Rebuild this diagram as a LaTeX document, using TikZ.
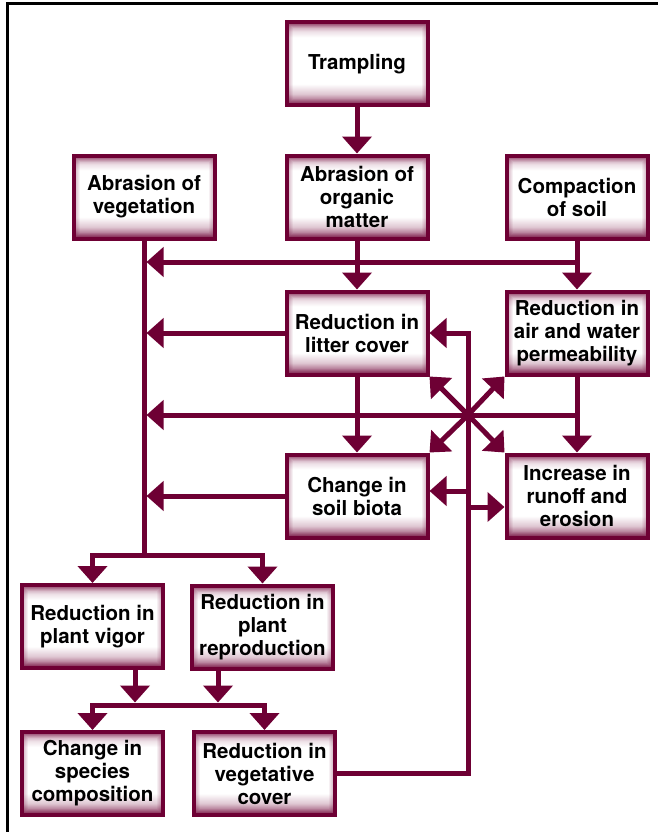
\documentclass[tikz,border=0pt]{standalone}
\usepackage{fontspec}
\setmainfont{TeX Gyre Heros}
\usetikzlibrary{arrows.meta,calc}

\definecolor{mar}{RGB}{110,0,52}

% soft maroon glow at the top and bottom of each box
\pgfdeclareverticalshading{boxglow}{100bp}{%
  color(0bp)=(mar!85); color(25bp)=(mar!85); color(28bp)=(mar!55);
  color(32bp)=(mar!22); color(38bp)=(white); color(66bp)=(white);
  color(69.6bp)=(mar!12); color(72.6bp)=(mar!35); color(75bp)=(mar!65);
  color(100bp)=(mar!65)}

\newcommand{\boxfont}{\fontsize{20.5}{23}\selectfont\bfseries}

\tikzset{
  box/.style={draw=mar, line width=4pt, shading=boxglow,
    minimum width=141pt, minimum height=83pt, inner sep=0pt,
    align=center, font=\boxfont,
    path picture={%
      \foreach \k in {1,...,6}
        \draw[mar, opacity=0.06, line width=2*\k pt]
          (path picture bounding box.south west) rectangle
          (path picture bounding box.north east);}},
  link/.style={draw=mar, line width=5pt, line join=miter},
  arr/.style={link, -{Triangle[length=17pt,width=29pt]}},
}

\begin{document}
\begin{tikzpicture}[x=1pt,y=-1pt]
\useasboundingbox (0,0) rectangle (658,832);

% frame
\draw[black, line width=3pt] (7,845) -- (7,3.5) -- (670,3.5);

% boxes
\node[box] (tra) at (357,64)    {Trampling};
\node[box] (org) at (357,197)   {Abrasion of\\organic\\matter};
\node[box] (veg) at (144,197)   {Abrasion of\\vegetation};
\node[box] (cmp) at (577,197)   {Compaction\\of soil};
\node[box] (lit) at (357,333)   {Reduction in\\litter cover};
\node[box] (per) at (577,333)   {Reduction in\\air and water\\permeability};
\node[box] (bio) at (357,496)   {Change in\\soil biota};
\node[box] (run) at (577,496)   {Increase in\\runoff and\\erosion};
\node[box] (vig) at (92.5,626.5){Reduction in\\plant vigor};
\node[box] (rep) at (262.5,627) {Reduction in\\plant\\reproduction};
\node[box] (spc) at (92.5,773.5){Change in\\species\\composition};
\node[box] (cov) at (264.5,773.5){Reduction in\\vegetative\\cover};

% junction points
\coordinate (t1) at (146.5,262);
\coordinate (t2) at (146.5,415);
\coordinate (xc) at (468,415);
\coordinate (vb) at (144,555);
\coordinate (r2) at (468,333);
\coordinate (r3) at (468,491);
\coordinate (r4) at (468,507);
\coordinate (b0) at (178,705);
\coordinate (b1) at (135,702.5);
\coordinate (b2) at (218,702.5);

% upper part
\draw[arr] (tra) -- (org);
\draw[arr] (org) -- (lit);
\draw[arr] (cmp) -- (per);
\draw[arr] (cmp.south |- t1) -- (t1);
\draw[arr] (lit.west) -- (lit.west -| t1);
\draw[arr] (per.south |- t2) -- (t2);
\draw[arr] (per) -- (run);
\draw[arr] (lit) -- (bio);
\draw[arr] (bio.west) -- (bio.west -| t1);

% crossing arrows
\draw[arr] (xc) -- (lit.south east);
\draw[arr] (xc) -- (per.south west);
\draw[arr] (xc) -- (bio.north east);
\draw[arr] (xc) -- (run.north west);

% feedback from vegetative cover
\draw[arr] (cov.east) -| (r2) -- (lit.east |- r2);
\draw[arr] (r3) -- (r3 -| bio.east);
\draw[arr] (r4) -- (r4 -| run.west);

% vegetation branch
\draw[link] (veg) -- (vb);
\draw[arr] (vb) -| (vig.north);
\draw[arr] (vb) -| (rep.north);

% lower part
\draw[arr] (vig.south -| b1) -- (b1);
\draw[arr] (rep.south -| b2) -- (b2);
\draw[arr] (b0) -| (spc.north);
\draw[arr] (b0) -| (cov.north);
\end{tikzpicture}
\end{document}
